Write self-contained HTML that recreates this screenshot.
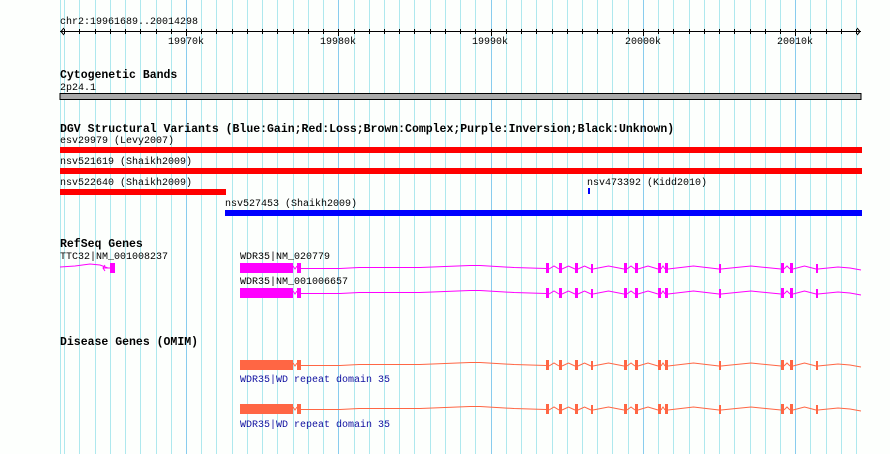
<!DOCTYPE html>
<html><head><style>
body{margin:0;background:#fff}
svg{display:block}
text{font-family:"Liberation Mono",monospace;font-size:10px;fill:#000}
.b{font-weight:bold;font-size:11.5px}
.o{fill:#1010a0}
</style></head><body>
<svg width="890" height="454" xmlns="http://www.w3.org/2000/svg">
<defs>
<g id="gene" fill="currentColor" stroke="currentColor">
<rect x="240" y="0" width="53" height="10" stroke="none"/>
<rect x="297" y="0" width="4" height="10" stroke="none"/>
<g fill="none" stroke-width="1">
<path d="M293 3L295 6L297 3"/>
<path d="M301 5.5L340 5.5L359 4.5L420 4.5L470 2.5L480 2.5L514 4.5L546 5.5"/>
<path d="M549 6L554 3L559 6M562 6L568.5 3L575 6M578 6L584.5 3L591 6M593 6L608.5 3L624 6M627 6L631 3L635 6M638 6L648 3L658 6M661 6L663 3L665 6M668 6L693.5 3L719 6M721 6L751 3L781 6M784 6L787 3L790 6M793 6L804.5 3L816 6M818 6L838 4L850 5L861 7"/>
</g>
<g stroke="none">
<rect x="546" y="0" width="3" height="10"/><rect x="559" y="0" width="3" height="10"/>
<rect x="575" y="0" width="3" height="10"/><rect x="591" y="1" width="2" height="9"/>
<rect x="624" y="0" width="3" height="10"/><rect x="635" y="0" width="3" height="10"/>
<rect x="658" y="0" width="3" height="10"/><rect x="665" y="0" width="3" height="10"/>
<rect x="719" y="1" width="2" height="9"/><rect x="781" y="0" width="3" height="10"/>
<rect x="790" y="0" width="3" height="10"/><rect x="816" y="1" width="2" height="9"/>
</g>
</g>
</defs>
<rect width="890" height="454" fill="#fdfffd"/>
<path stroke="#aee8ee" fill="none" d="M60.5 0V454M64.5 0V454M79.5 0V454M95.5 0V454M110.5 0V454M125.5 0V454M140.5 0V454M156.5 0V454M171.5 0V454M201.5 0V454M216.5 0V454M232.5 0V454M247.5 0V454M262.5 0V454M277.5 0V454M293.5 0V454M308.5 0V454M323.5 0V454M354.5 0V454M369.5 0V454M384.5 0V454M399.5 0V454M414.5 0V454M430.5 0V454M445.5 0V454M460.5 0V454M475.5 0V454M506.5 0V454M521.5 0V454M536.5 0V454M552.5 0V454M567.5 0V454M582.5 0V454M597.5 0V454M612.5 0V454M628.5 0V454M658.5 0V454M673.5 0V454M689.5 0V454M704.5 0V454M719.5 0V454M734.5 0V454M750.5 0V454M765.5 0V454M780.5 0V454M810.5 0V454M826.5 0V454M841.5 0V454M856.5 0V454"/>
<path stroke="#88ccee" fill="none" d="M186.5 0V454M338.5 0V454M491.5 0V454M643.5 0V454M795.5 0V454"/>
<!-- ruler -->
<text x="60" y="24">chr2:19961689..20014298</text>
<line x1="60" y1="31.5" x2="861" y2="31.5" stroke="#000"/>
<polyline points="64,28 61,31.5 64,35" fill="none" stroke="#000"/>
<polyline points="857,28 860,31.5 857,35" fill="none" stroke="#000"/>
<path stroke="#000" fill="none" d="M64.5 29V34M79.5 29V34M95.5 29V34M110.5 29V34M125.5 29V34M140.5 29V34M156.5 29V34M171.5 29V34M201.5 29V34M216.5 29V34M232.5 29V34M247.5 29V34M262.5 29V34M277.5 29V34M293.5 29V34M308.5 29V34M323.5 29V34M354.5 29V34M369.5 29V34M384.5 29V34M399.5 29V34M414.5 29V34M430.5 29V34M445.5 29V34M460.5 29V34M475.5 29V34M506.5 29V34M521.5 29V34M536.5 29V34M552.5 29V34M567.5 29V34M582.5 29V34M597.5 29V34M612.5 29V34M628.5 29V34M658.5 29V34M673.5 29V34M689.5 29V34M704.5 29V34M719.5 29V34M734.5 29V34M750.5 29V34M765.5 29V34M780.5 29V34M810.5 29V34M826.5 29V34M841.5 29V34M856.5 29V34M186.5 29V36M338.5 29V36M491.5 29V36M643.5 29V36M795.5 29V36"/>
<text x="168" y="44">19970k</text>
<text x="320" y="44">19980k</text>
<text x="472" y="44">19990k</text>
<text x="625" y="44">20000k</text>
<text x="777" y="44">20010k</text>
<!-- cyto -->
<text class="b" x="60" y="78">Cytogenetic Bands</text>
<text x="60" y="90">2p24.1</text>
<rect x="60" y="93.5" width="801" height="6" fill="#aaa" stroke="#000"/>
<!-- DGV -->
<text class="b" x="60" y="132">DGV Structural Variants (Blue:Gain;Red:Loss;Brown:Complex;Purple:Inversion;Black:Unknown)</text>
<text x="60" y="143">esv29979 (Levy2007)</text>
<rect x="60" y="147" width="802" height="6" fill="#f00"/>
<text x="60" y="164">nsv521619 (Shaikh2009)</text>
<rect x="60" y="168" width="802" height="6" fill="#f00"/>
<text x="60" y="185">nsv522640 (Shaikh2009)</text>
<rect x="60" y="189" width="166" height="6" fill="#f00"/>
<text x="587" y="185">nsv473392 (Kidd2010)</text>
<rect x="588" y="188" width="2" height="6" fill="#00f"/>
<text x="225" y="206">nsv527453 (Shaikh2009)</text>
<rect x="225" y="210" width="637" height="6" fill="#00f"/>
<!-- RefSeq -->
<text class="b" x="60" y="247">RefSeq Genes</text>
<text x="60" y="259">TTC32|NM_001008237</text>
<polyline points="60,267 75,266 90,264 100,265 108,268" fill="none" stroke="#f0f"/>
<line x1="103" y1="268" x2="110" y2="268" stroke="#f0f"/>
<polyline points="105,265 103,268 105,271" fill="none" stroke="#f0f"/>
<rect x="110" y="263" width="5" height="10" fill="#f0f"/>
<text x="240" y="259">WDR35|NM_020779</text>
<text x="240" y="284">WDR35|NM_001006657</text>
<use href="#gene" y="263" style="color:#f0f"/>
<use href="#gene" y="288" style="color:#f0f"/>
<!-- OMIM -->
<text class="b" x="60" y="345">Disease Genes (OMIM)</text>
<use href="#gene" y="360" style="color:#f64"/>
<use href="#gene" y="404" style="color:#f64"/>
<text class="o" x="240" y="382">WDR35|WD repeat domain 35</text>
<text class="o" x="240" y="427">WDR35|WD repeat domain 35</text>
</svg>
</body></html>
